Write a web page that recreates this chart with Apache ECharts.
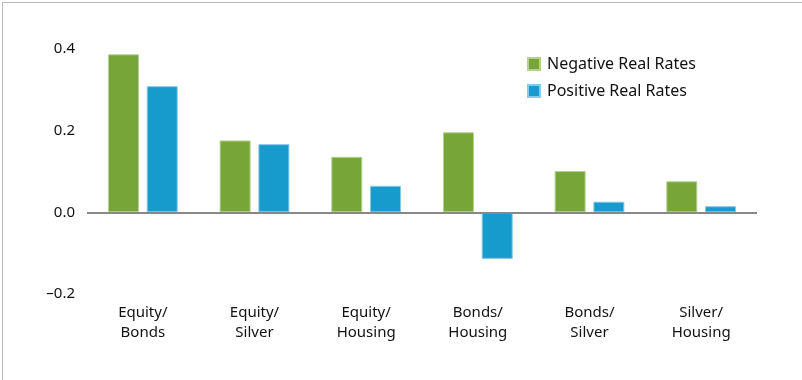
<!DOCTYPE html>
<html>
<head>
<meta charset="utf-8">
<script src="https://cdn.jsdelivr.net/npm/echarts@6/dist/echarts.min.js"></script>
<style>
html,body{margin:0;padding:0;background:#fff;}
#c{width:802px;height:380px;}
</style>
</head>
<body>
<div id="c"></div>
<script>
const categories = ['Equity/\nBonds', 'Equity/\nSilver', 'Equity/\nHousing', 'Bonds/\nHousing', 'Bonds/\nSilver', 'Silver/\nHousing'];
const negativeRealRates = [0.387, 0.176, 0.136, 0.196, 0.101, 0.076];
const positiveRealRates = [0.309, 0.167, 0.065, -0.114, 0.026, 0.015];
const yTicks = [-0.2, 0.0, 0.2, 0.4];

const FONT = '"Noto Sans"';
const chart = echarts.init(document.getElementById('c'), null, {renderer: 'canvas'});
chart.setOption({
  animation: false,
  backgroundColor: '#fff',
  graphic: [{
    type: 'rect', left: 0, top: 0,
    shape: {x: 0.5, y: 0.5, width: 801, height: 379},
    style: {fill: 'none', stroke: '#b4b9be', lineWidth: 1}
  }],
  grid: {left: 87, right: 45, top: 49, bottom: 86, containLabel: false},
  legend: {
    orient: 'vertical',
    left: 522, top: 51,
    itemWidth: 12, itemHeight: 12, itemGap: 11,
    icon: 'rect',
    textStyle: {fontFamily: FONT, fontSize: 16, lineHeight: 14, color: '#111', padding: [0, 0, 0, 2]},
    data: ['Negative Real Rates', 'Positive Real Rates']
  },
  xAxis: {
    type: 'category',
    data: categories,
    axisLine: {show: false},
    axisTick: {show: false},
    axisLabel: {fontFamily: FONT, fontSize: 15, color: '#111', lineHeight: 20, margin: 9}
  },
  yAxis: {
    type: 'value',
    min: -0.2, max: 0.4, interval: 0.2,
    splitLine: {show: false},
    axisLine: {show: false},
    axisTick: {show: false},
    axisLabel: {
      fontFamily: FONT, fontSize: 15, color: '#111', margin: 12,
      formatter: v => (v < 0 ? '\u2013' + Math.abs(v).toFixed(1) : v.toFixed(1))
    }
  },
  series: [{
    name: 'Negative Real Rates', type: 'bar',
    data: negativeRealRates,
    barWidth: 31, barGap: '25%',
    itemStyle: {color: '#78a537', borderColor: '#b3d193', borderWidth: 1},
    markLine: {
      silent: true, symbol: 'none', label: {show: false},
      lineStyle: {color: '#888', width: 2, type: 'solid'},
      data: [{yAxis: 0}]
    }
  }, {
    name: 'Positive Real Rates', type: 'bar',
    data: positiveRealRates,
    barWidth: 31,
    itemStyle: {color: '#179acc', borderColor: '#86c9e8', borderWidth: 1}
  }]
});
</script>
</body>
</html>
